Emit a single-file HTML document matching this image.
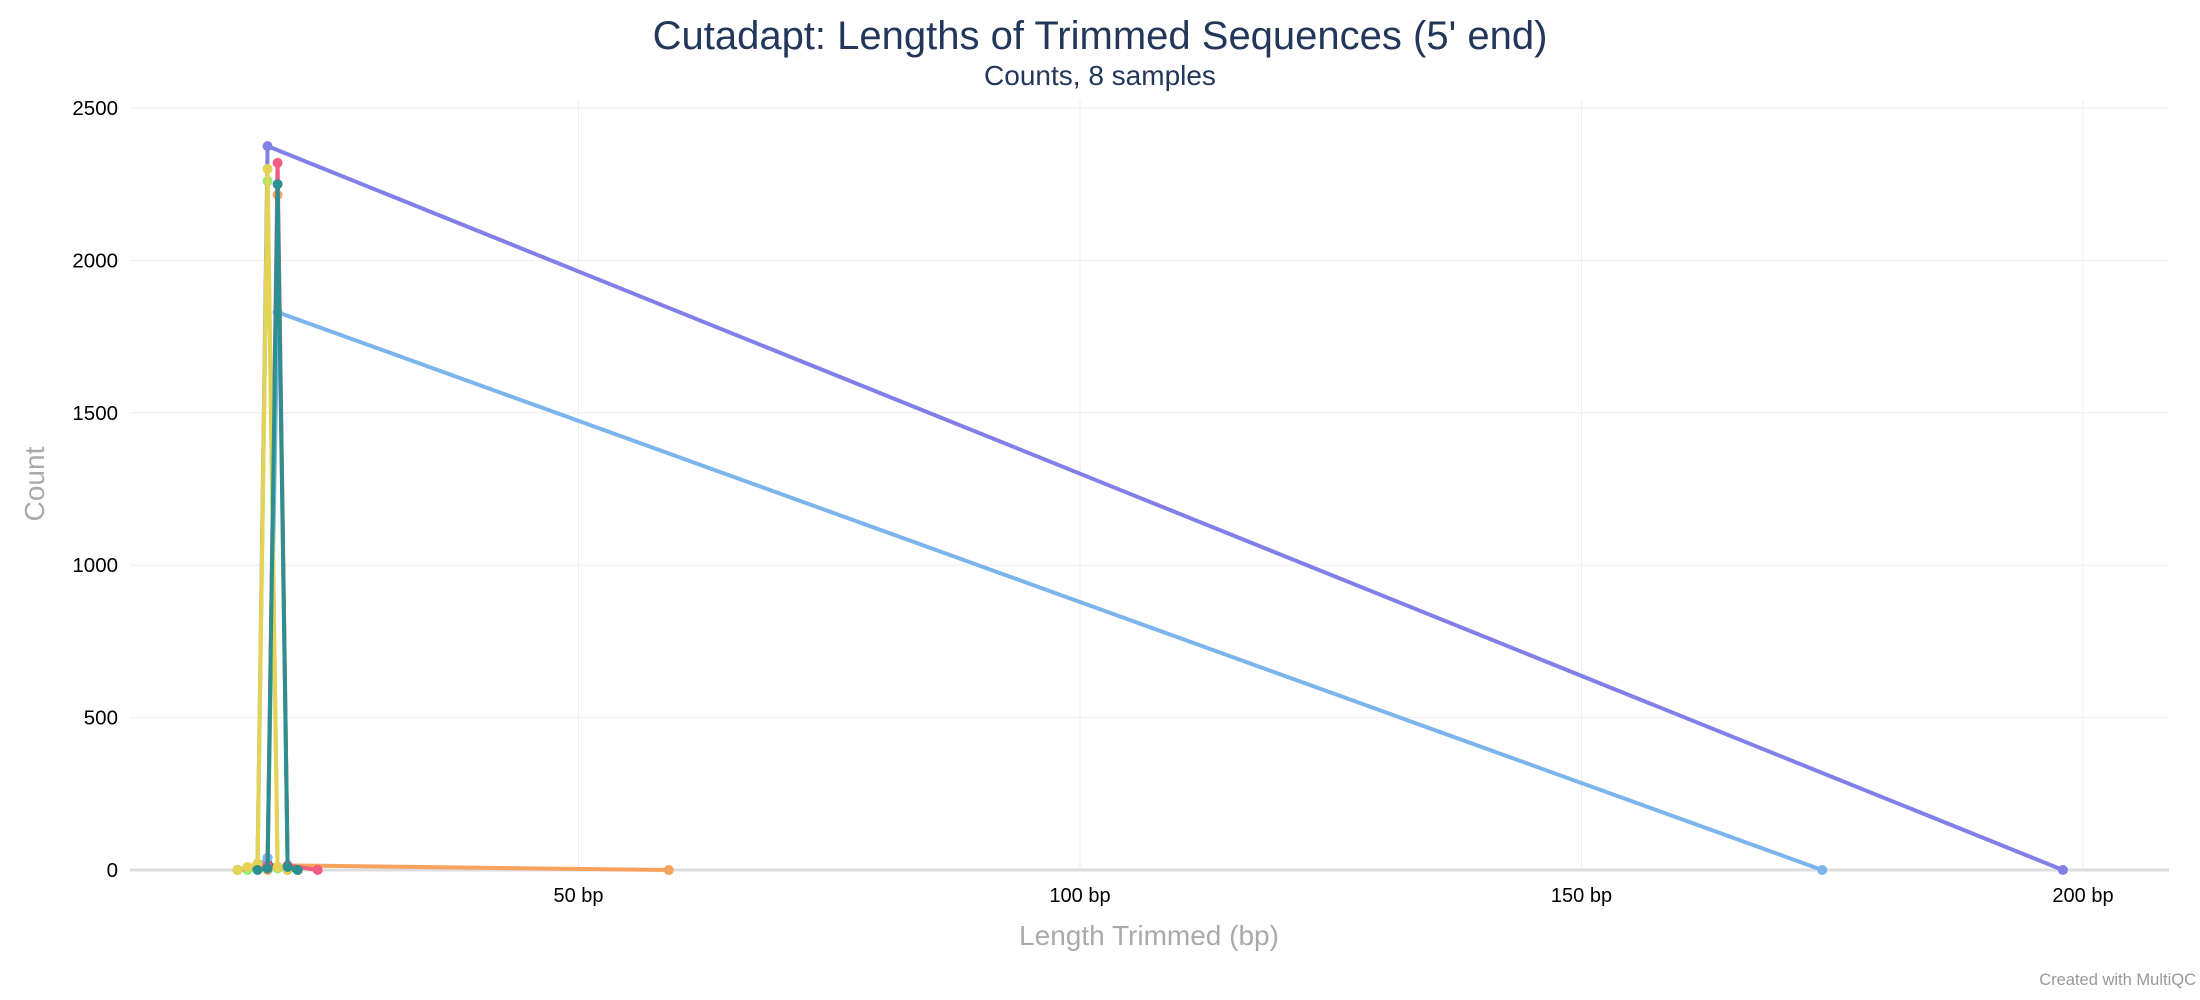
<!DOCTYPE html>
<html><head><meta charset="utf-8"><style>
body{margin:0;background:#fff;font-family:"Liberation Sans",sans-serif;}
svg{display:block}
</style></head><body>
<svg id="chart" width="2200" height="1000">
<text x="1100" y="49" text-anchor="middle" font-size="40" fill="#22375a">Cutadapt: Lengths of Trimmed Sequences (5' end)</text>
<text x="1100" y="85" text-anchor="middle" font-size="28" fill="#22375a">Counts, 8 samples</text>
<text transform="translate(44,484) rotate(-90)" text-anchor="middle" font-size="28" fill="#aaa">Count</text>
<text x="1149" y="945" text-anchor="middle" font-size="28" fill="#aaa">Length Trimmed (bp)</text>
<text x="2196" y="985" text-anchor="end" font-size="16.5" fill="#999">Created with MultiQC</text>
<g id="grid"></g><g id="series"></g>
</svg>
<script>
const xTicks=[50,100,150,200];
const yTicks=[0,500,1000,1500,2000,2500];
const names=["purple-sample","blue-sample","yellow-sample","green-sample","red-sample","teal-sample","orange-sample","grey-sample"];
const colors=["#8080e8","#7cb5ec","#e4d354","#90ed7d","#f15c80","#2b908f","#f7a35c","#434348"];
const xs0=[18,19,198];const ys0=[20,2375,0];
const xs1=[18,19,20,174];const ys1=[10,40,1830,0];
const xs2=[16,17,18,19,20,21];const ys2=[0,10,20,2300,10,0];
const xs3=[17,18,19,20];const ys3=[0,15,2260,5];
const xs4=[16,18,19,20,21,24];const ys4=[0,10,15,2320,15,0];
const xs5=[18,19,20,21,22];const ys5=[0,5,2250,10,0];
const xs6=[19,20,21,59];const ys6=[0,2215,15,0];
const xs7=[19,20,21,22];const ys7=[20,10,0,0];
const XS=[xs0,xs1,xs2,xs3,xs4,xs5,xs6,xs7],YS=[ys0,ys1,ys2,ys3,ys4,ys5,ys6,ys7];
const L=130,R=2169,T=101,B=870;
const x=v=>77+(v)*10.03;
const y=v=>B-v/2500*762;
const NS="http://www.w3.org/2000/svg";
const g=document.getElementById('grid'),s=document.getElementById('series');
function mk(t,a,p){const e=document.createElementNS(NS,t);for(const k in a)e.setAttribute(k,a[k]);p.appendChild(e);return e;}
yTicks.forEach(v=>{
 const l=mk('line',{x1:L,x2:R,y1:y(v),y2:y(v),stroke:v===0?'#ddd':'#eee','stroke-width':v===0?3:1},g);
 
 
 const t=mk('text',{x:118,y:y(v)+7,'text-anchor':'end','font-size':20.5,fill:'#000'},g);t.textContent=v;
 
 
});
xTicks.forEach(v=>{
 const l=mk('line',{x1:x(v),x2:x(v),y1:T,y2:B,stroke:'#eee','stroke-width':1},g);
 
 
 const t=mk('text',{x:x(v),y:902,'text-anchor':'middle','font-size':20,fill:'#000'},g);t.textContent=v+' bp';
 
 
});
[7,6,1,0,3,4,2,5].forEach(i=>{
 const grp=mk('g',{},s);
 
 
 const pts=XS[i].map((v,j)=>x(v)+','+y(YS[i][j])).join(' ');
 const pl=mk('polyline',{points:pts,fill:'none',stroke:colors[i],'stroke-width':4,'stroke-linejoin':'round'},grp);
 
 
 XS[i].forEach((v,j)=>{
  const c=mk('circle',{cx:x(v),cy:y(YS[i][j]),r:5,fill:colors[i]},grp);
  
  
 });
});
</script>
</body></html>
